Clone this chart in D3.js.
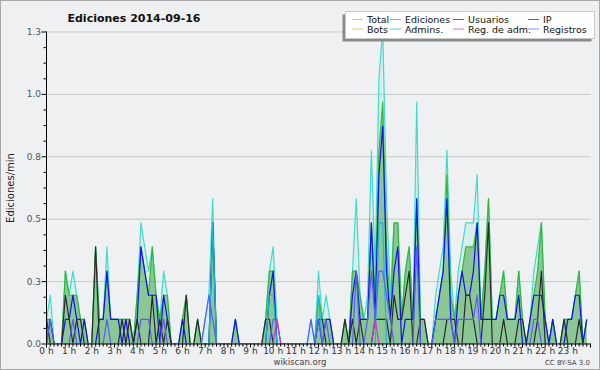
<!DOCTYPE html>
<html>
<head>
<meta charset="utf-8">
<script src="https://cdn.jsdelivr.net/npm/d3@7"></script>
<style>
  body { margin: 0; background: #fff; }
  svg { display: block; }
  text { font-family: "DejaVu Sans", sans-serif; }
</style>
</head>
<body>
<div id="chart"></div>
<script>
// edits per 10 minute slot, 144 slots for the day
const total = [
  1,2,0,0,0,3,2,3,2,1,1,0,
  0,4,1,1,4,1,1,1,1,1,1,0,
  2,5,4,3,4,2,1,3,2,0,0,0,
  1,2,0,0,1,0,1,2,6,0,0,0,
  0,0,1,0,0,0,0,0,0,0,1,3,
  4,1,0,0,0,0,0,0,0,0,1,0,
  3,1,2,1,0,0,0,1,0,3,6,2,
  1,2,8,3,11,13,6,2,5,5,1,3,
  4,1,10,1,1,0,0,2,3,4,8,3,
  1,3,4,5,5,5,7,1,3,6,1,1,
  2,3,1,1,1,3,1,0,1,3,4,5,
  1,0,1,0,0,1,1,1,2,3,0,1
]
const edits = [
  1,1,0,0,0,3,2,2,2,1,1,0,
  0,4,1,1,3,1,1,1,1,1,1,0,
  2,4,3,2,4,2,1,2,2,0,0,0,
  1,2,0,0,1,0,0,0,5,0,0,0,
  0,0,1,0,0,0,0,0,0,0,1,3,
  3,0,0,0,0,0,0,0,0,0,0,0,
  2,1,1,1,0,0,0,1,0,3,3,2,
  1,1,5,2,8,10,4,1,5,5,1,3,
  4,1,6,1,1,0,0,1,2,3,7,2,
  1,2,3,4,4,4,5,1,3,6,1,1,
  2,3,1,1,1,3,1,0,1,2,3,5,
  1,0,1,0,0,1,1,1,2,3,0,1
]
const users = [
  0,1,0,0,0,1,1,2,1,0,1,0,
  0,0,1,1,3,1,1,1,0,1,0,0,
  1,4,3,2,2,2,0,2,1,0,0,0,
  1,0,0,0,0,0,0,0,5,0,0,0,
  0,0,1,0,0,0,0,0,0,0,0,2,
  3,0,0,0,0,0,0,0,0,0,0,0,
  1,0,1,1,0,0,0,0,0,2,3,1,
  1,1,5,1,7,9,3,1,3,4,0,1,
  1,1,6,0,0,0,0,1,2,3,6,1,
  0,2,3,2,2,3,5,1,1,1,1,1,
  2,2,1,1,1,2,0,0,1,2,2,2,
  1,0,1,0,0,0,1,1,2,2,0,1
]
const ips = [
  1,0,0,0,0,2,1,0,1,1,0,0,
  0,4,0,0,0,0,0,0,1,0,1,0,
  1,0,0,0,2,0,1,0,1,0,0,0,
  0,2,0,0,1,0,0,0,0,0,0,0,
  0,0,0,0,0,0,0,0,0,0,1,1,
  0,0,0,0,0,0,0,0,0,0,0,0,
  1,1,0,0,0,0,0,1,0,1,0,1,
  0,0,0,1,1,1,1,0,2,1,1,2,
  3,0,0,1,1,0,0,0,0,0,1,1,
  1,0,0,2,2,1,0,0,2,5,0,0,
  0,1,0,0,0,1,1,0,0,0,1,3,
  0,0,0,0,0,1,0,0,0,1,0,0
]
const bots = [
  0,0,0,0,0,0,0,0,0,0,0,0,
  0,0,0,0,0,0,0,0,0,0,0,0,
  0,0,0,0,0,0,0,0,0,0,0,0,
  0,0,0,0,0,0,0,0,0,0,0,0,
  0,0,0,0,0,0,0,0,0,0,0,0,
  0,0,0,0,0,0,0,0,0,0,0,0,
  0,0,0,0,0,0,0,0,0,0,0,0,
  0,0,0,0,0,0,0,0,0,0,0,0,
  0,0,0,0,0,0,0,0,0,0,0,0,
  0,0,0,0,0,0,0,0,0,0,0,0,
  0,0,0,0,0,0,0,0,0,0,0,0,
  0,0,0,0,0,0,0,0,0,0,0,0
]
const admins = [
  0,0,0,0,0,0,0,0,0,0,0,0,
  0,0,0,0,0,0,0,0,0,0,0,0,
  0,0,0,0,0,0,0,0,0,0,0,0,
  0,0,0,0,0,0,0,0,5,0,0,0,
  0,0,0,0,0,0,0,0,0,0,0,2,
  2,0,0,0,0,0,0,0,0,0,0,0,
  2,0,0,0,0,0,0,0,0,0,0,0,
  0,0,0,0,5,5,0,0,0,0,0,0,
  0,0,0,0,0,0,0,0,0,0,0,0,
  0,0,0,0,0,0,0,0,0,0,0,0,
  0,0,0,0,0,0,0,0,0,0,0,0,
  0,0,0,0,0,0,0,0,0,0,0,0
]
const adminLogs = [
  0,0,0,0,0,0,0,0,0,0,0,0,
  0,0,0,0,0,0,0,0,0,0,0,0,
  0,0,0,0,0,0,0,0,0,0,0,0,
  0,0,0,0,0,0,0,0,0,0,0,0,
  0,0,0,0,0,0,0,0,0,0,0,0,
  0,1,0,0,0,0,0,0,0,0,0,0,
  0,0,0,0,0,0,0,0,0,0,0,0,
  0,0,0,1,0,0,0,0,0,0,0,0,
  0,0,0,0,0,0,0,0,0,0,0,0,
  0,0,0,0,0,0,0,0,0,0,0,0,
  0,0,0,0,0,0,0,0,0,0,0,0,
  0,0,0,0,0,0,0,0,0,0,0,0
]
const logs = [
  0,1,0,0,0,0,0,1,0,0,0,0,
  0,0,0,0,1,0,0,0,0,0,0,0,
  0,1,1,1,0,0,0,1,0,0,0,0,
  0,0,0,0,0,0,1,2,1,0,0,0,
  0,0,0,0,0,0,0,0,0,0,0,0,
  1,1,0,0,0,0,0,0,0,0,1,0,
  1,0,1,0,0,0,0,0,0,0,3,0,
  0,1,3,1,3,3,2,1,0,0,0,0,
  0,0,4,0,0,0,0,1,1,1,1,1,
  0,1,1,1,1,1,2,0,0,0,0,0,
  0,0,0,0,0,0,0,0,0,1,1,0,
  0,0,0,0,0,0,0,0,0,0,0,0
]

const hourLabels = ['0 h','1 h','2 h','3 h','4 h','5 h','6 h','7 h','8 h','9 h','10 h','11 h',
                    '12 h','13 h','14 h','15 h','16 h','17 h','18 h','19 h','20 h','21 h','22 h','23 h']
const yTicks = [0, 0.25, 0.5, 0.75, 1, 1.25]
const yTickLabels = ['0.0','0.3','0.5','0.8','1.0','1.3']

const unit = 0.0967   // edits/min for a single edit in a slot
const width = 600, height = 370
const bg = '#eff0f1'

const svg = d3.select('#chart').append('svg')
  .attr('width', width)
  .attr('height', height)

svg.append('rect')
  .attr('x', 0.5).attr('y', 0.5)
  .attr('width', width - 1).attr('height', height - 1)
  .attr('fill', bg)
  .attr('stroke', '#a8a8a8')

const x = d3.scaleLinear().domain([0, 144]).range([46.5, 590.5])
const y = d3.scaleLinear().domain([0, 1.25]).range([343.5, 31.5])

// grid
svg.append('g')
  .selectAll('line')
  .data(yTicks.slice(1))
  .join('line')
    .attr('x1', x(0)).attr('x2', x(144))
    .attr('y1', d => y(d) + 0.5).attr('y2', d => y(d) + 0.5)
    .attr('stroke', '#c9c9c9')

const plot = svg.append('g')
const line = d3.line().x((d, i) => x(i)).y(d => y(d * unit))
const area = d3.area().x((d, i) => x(i)).y0(y(0)).y1(d => y(d * unit))

plot.append('path').datum(total).attr('d', area)
  .attr('fill', '#40e0d0').attr('fill-opacity', 0.13)
plot.append('path').datum(edits).attr('d', area)
  .attr('fill', '#3ca03c').attr('fill-opacity', 0.5)

// drawing order (last on top)
const series = [
  {name: 'Total', data: total, color: '#3fdccc'},
  {name: 'Ediciones', data: edits, color: '#35b835'},
  {name: 'Usuarios', data: users, color: '#1010f0'},
  {name: 'IP', data: ips, color: '#2a2a2a'},
  {name: 'Admins.', data: admins, color: '#1eb4dc'},
  {name: 'Registros', data: logs, color: '#5a5aff'},
  {name: 'Reg. de adm.', data: adminLogs, color: '#d030e0'},
  {name: 'Bots', data: bots, color: '#f0a030'}
]

plot.selectAll('path.serie')
  .data(series)
  .join('path')
    .attr('class', 'serie')
    .attr('d', d => line(d.data))
    .attr('fill', 'none')
    .attr('stroke', d => d.color)
    .attr('stroke-width', 1.2)
    .attr('stroke-linejoin', 'round')

// y axis
const yAxis = svg.append('g')
yAxis.append('line')
  .attr('x1', x(0)).attr('x2', x(0))
  .attr('y1', y(1.25)).attr('y2', y(0) + 1)
  .attr('stroke', '#000')
const minor = d3.range(0, 1.25, 0.0625)
yAxis.selectAll('line.minor')
  .data(minor)
  .join('line')
    .attr('class', 'minor')
    .attr('x1', d => yTicks.includes(d) ? x(0) - 5 : x(0) - 3)
    .attr('x2', x(0))
    .attr('y1', d => y(d) + 0.5).attr('y2', d => y(d) + 0.5)
    .attr('stroke', '#000')
yAxis.append('line')
  .attr('x1', x(0) - 5).attr('x2', x(0))
  .attr('y1', y(1.25) + 0.5).attr('y2', y(1.25) + 0.5)
  .attr('stroke', '#000')
yAxis.selectAll('text')
  .data(yTicks)
  .join('text')
    .attr('x', 41)
    .attr('y', d => y(d) + 3.5)
    .attr('text-anchor', 'end')
    .attr('font-size', 9)
    .attr('fill', '#555')
    .text((d, i) => yTickLabels[i])

// x axis
const xAxis = svg.append('g')
xAxis.append('line')
  .attr('x1', x(0)).attr('x2', x(144))
  .attr('y1', y(0) + 0.5).attr('y2', y(0) + 0.5)
  .attr('stroke', '#000')
xAxis.selectAll('line.tick')
  .data(d3.range(0, 145))
  .join('line')
    .attr('class', 'tick')
    .attr('x1', d => x(d)).attr('x2', d => x(d))
    .attr('y1', y(0)).attr('y2', d => y(0) + (d % 6 === 0 ? 4 : 3))
    .attr('stroke', '#000')
xAxis.selectAll('text')
  .data(hourLabels)
  .join('text')
    .attr('x', (d, i) => x(i * 6))
    .attr('y', 354)
    .attr('text-anchor', 'middle')
    .attr('font-size', 9)
    .attr('fill', '#333')
    .text(d => d)

// titles
svg.append('text')
  .attr('x', 134).attr('y', 22)
  .attr('text-anchor', 'middle')
  .attr('font-size', 11)
  .attr('font-weight', 'bold')
  .attr('fill', '#111')
  .text('Ediciones  2014-09-16')
svg.append('text')
  .attr('transform', 'translate(14,188) rotate(-90)')
  .attr('text-anchor', 'middle')
  .attr('font-family', '"DejaVu Sans Mono", monospace')
  .attr('font-size', 10)
  .attr('fill', '#222')
  .text('Ediciones/min')
svg.append('text')
  .attr('x', 300).attr('y', 365)
  .attr('text-anchor', 'middle')
  .attr('font-size', 8.5)
  .attr('fill', '#444')
  .text('wikiscan.org')
svg.append('text')
  .attr('x', 590).attr('y', 365)
  .attr('text-anchor', 'end')
  .attr('font-size', 7)
  .attr('fill', '#444')
  .text('CC BY-SA 3.0')

// legend
const legend = svg.append('g')
legend.append('rect')
  .attr('x', 342.5).attr('y', 14.5).attr('width', 249).attr('height', 27)
  .attr('fill', '#8a8a8a')
legend.append('rect')
  .attr('x', 345.5).attr('y', 11.5).attr('width', 249).attr('height', 27)
  .attr('fill', '#fff').attr('stroke', '#c8c8c8')
const legendCols = [352, 390, 453, 528]
const legendOrder = ['Total', 'Ediciones', 'Usuarios', 'IP', 'Bots', 'Admins.', 'Reg. de adm.', 'Registros']
const legendItems = legend.selectAll('g.item')
  .data(legendOrder.map(n => series.find(s => s.name === n)))
  .join('g')
    .attr('class', 'item')
    .attr('transform', (d, i) => `translate(${legendCols[i % 4]},${i < 4 ? 19.5 : 29})`)
legendItems.append('line')
  .attr('x1', 0).attr('x2', 11)
  .attr('stroke', d => d.color)
  .attr('stroke-opacity', 0.7)
legendItems.append('text')
  .attr('x', 15).attr('y', 3.5)
  .attr('font-size', 9.5)
  .attr('fill', '#111')
  .text(d => d.name)
</script>
</body>
</html>
